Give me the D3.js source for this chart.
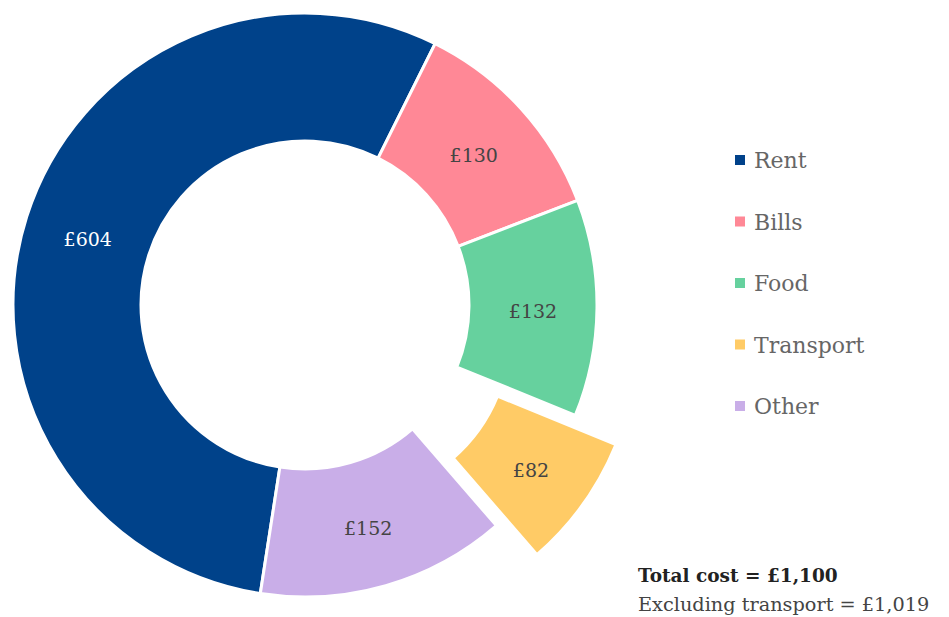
<!DOCTYPE html>
<html>
<head>
<meta charset="utf-8">
<script src="https://cdn.jsdelivr.net/npm/d3@7"></script>
<style>
  body { margin: 0; background: #fff; }
  svg { display: block; font-family: "DejaVu Serif", serif; }
</style>
</head>
<body>
<svg id="chart" width="949" height="617"></svg>
<script>
var categories = ["Rent", "Bills", "Food", "Transport", "Other"];
var values = [604, 130, 132, 82, 152];
var colors = ["#00428a", "#ff8896", "#66d19e", "#ffcb66", "#c9aee8"];
var labelColors = ["#ffffff", "#444444", "#444444", "#444444", "#444444"];
var exploded = ["Transport"];
var totalLabel = "Total cost = £1,100";
var exclLabel = "Excluding transport = £1,019";

var cx = 305, cy = 305;
var outerR = 292, innerR = 164;
var startDeg = -171.2;

var svg = d3.select("#chart");

var data = categories.map(function(c, i){
    return {name: c, value: values[i], color: colors[i], label: labelColors[i]};
});

var pie = d3.pie()
    .value(function(d){ return d.value; })
    .sort(null)
    .startAngle(startDeg * Math.PI / 180)
    .endAngle(startDeg * Math.PI / 180 + 2 * Math.PI);

var arc = d3.arc()
    .innerRadius(innerR)
    .outerRadius(outerR);

var g = svg.append("g")
    .attr("transform", "translate(" + cx + "," + cy + ")");

var slices = g.selectAll("g.slice")
    .data(pie(data))
    .enter().append("g")
    .attr("class", "slice")
    .attr("transform", function(d){
        if (exploded.indexOf(d.data.name) < 0) return null;
        var a = (d.startAngle + d.endAngle) / 2;
        var off = 50;
        return "translate(" + (Math.sin(a) * off) + "," + (-Math.cos(a) * off) + ")";
    });

slices.append("path")
    .attr("d", arc)
    .attr("fill", function(d){ return d.data.color; })
    .attr("stroke", "#fff")
    .attr("stroke-width", 3);

slices.append("text")
    .attr("transform", function(d){ return "translate(" + arc.centroid(d) + ")"; })
    .attr("text-anchor", "middle")
    .attr("dy", "0.55em")
    .attr("font-size", 19)
    .attr("fill", function(d){ return d.data.label; })
    .text(function(d){ return "£" + d.data.value; });

// legend
var legendY = d3.scalePoint()
    .domain(categories)
    .range([160, 406]);

var legend = svg.append("g")
    .selectAll("g")
    .data(data)
    .enter().append("g")
    .attr("transform", function(d){ return "translate(735," + legendY(d.name) + ")"; });

legend.append("rect")
    .attr("x", 0)
    .attr("y", -5)
    .attr("width", 10)
    .attr("height", 10)
    .attr("fill", function(d){ return d.color; });

legend.append("text")
    .attr("x", 19)
    .attr("dy", "0.37em")
    .attr("font-size", 22)
    .attr("fill", "#666")
    .text(function(d){ return d.name; });

// totals
svg.append("text")
    .attr("x", 638)
    .attr("y", 582)
    .attr("font-size", 18.5)
    .attr("font-weight", "bold")
    .attr("fill", "#222")
    .text(totalLabel);

svg.append("text")
    .attr("x", 638)
    .attr("y", 611)
    .attr("font-size", 19.3)
    .attr("fill", "#444")
    .text(exclLabel);
</script>
</body>
</html>
